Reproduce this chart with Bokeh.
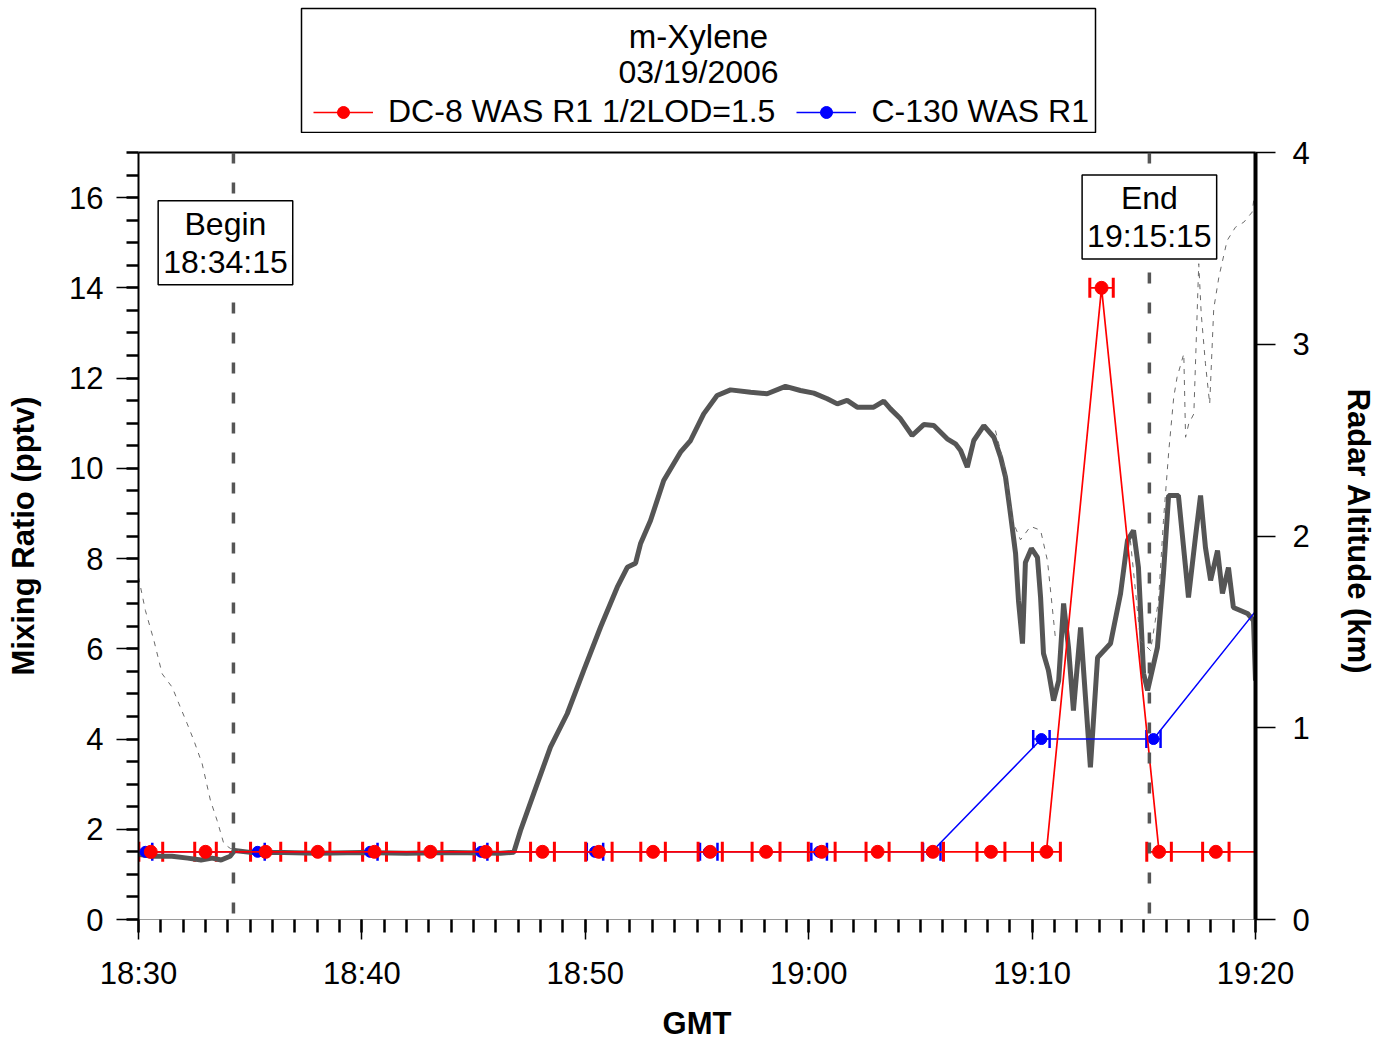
import numpy as np
import pandas as pd
from bokeh.plotting import figure
from bokeh.models import (ColumnDataSource, Range1d, LinearAxis, FixedTicker,
                          DatetimeTickFormatter, Whisker, TeeHead, Span, Label,
                          Legend, LegendItem)
from bokeh.layouts import column
from bokeh.embed import file_html
from bokeh.resources import INLINE
from bokeh.core.properties import value

FONT = "Liberation Sans"
DATE = "2006-03-19"

# ---------------- data ----------------
title_species = "m-Xylene"
title_date = "03/19/2006"
dc8_label = "DC-8 WAS R1 1/2LOD=1.5"
c130_label = "C-130 WAS R1"

# DC-8 whole-air samples (start, stop in GMT) and mixing ratio (pptv)
dc8_start = ["18:30:01", "18:32:31", "18:35:01", "18:37:29", "18:40:02", "18:42:33",
             "18:45:01", "18:47:33", "18:50:01", "18:52:29", "18:55:03", "18:57:28",
             "18:59:59", "19:02:34", "19:05:05", "19:07:32", "19:10:01", "19:12:35",
             "19:15:08", "19:17:38", "19:20:06"]
dc8_stop = ["18:31:05", "18:33:29", "18:36:22", "18:38:34", "18:41:06", "18:43:35",
            "18:46:04", "18:48:37", "18:51:12", "18:53:35", "18:56:08", "18:58:43",
            "19:01:11", "19:03:36", "19:06:02", "19:08:47", "19:11:16", "19:13:38",
            "19:16:14", "19:18:49", "19:21:18"]
dc8_mixing = [1.5, 1.5, 1.5, 1.5, 1.5, 1.5, 1.5, 1.5, 1.5, 1.5, 1.5, 1.5,
              1.5, 1.5, 1.5, 1.5, 1.5, 14.0, 1.5, 1.5, 1.5]

# C-130 whole-air samples
c130_start = ["18:30:00", "18:35:01", "18:40:02", "18:45:03", "18:50:04", "18:55:08",
              "19:00:07", "19:05:07", "19:10:03", "19:15:07", "19:20:05"]
c130_stop = ["18:30:37", "18:35:39", "18:40:42", "18:45:37", "18:50:48", "18:55:55",
             "19:00:49", "19:05:54", "19:10:47", "19:15:45", "19:20:47"]
c130_mixing = [1.5, 1.5, 1.5, 1.5, 1.5, 1.5, 1.5, 1.5, 4.0, 4.0, 7.1]

# Radar altitude (km), minutes after 18:30 GMT
alt1_min = [0.00, 0.60, 1.50, 2.20, 2.80, 3.30, 3.70, 4.10, 4.30, 5.00, 6.50, 8.00,
            10.0, 12.0, 14.0, 16.2, 16.80, 17.10, 17.69, 18.44, 19.19, 19.93, 20.68,
            21.43, 21.88, 22.25, 22.47, 22.92, 23.51, 24.26, 24.71, 25.30, 25.90,
            26.50, 27.40, 28.14, 28.96, 29.63, 30.23, 30.83, 31.28, 31.72, 32.17,
            32.91, 33.36, 33.66, 34.11, 34.63, 35.15, 35.60, 36.20, 36.57, 36.80,
            37.10, 37.39, 37.84, 38.29, 38.59, 38.81, 39.03, 39.26, 39.39, 39.57,
            39.70, 39.97, 40.24, 40.38, 40.51, 40.73, 40.96, 41.19, 41.41, 41.63,
            41.85, 42.17, 42.39, 42.61, 42.93, 43.51, 43.96, 44.27, 44.54, 44.76,
            44.99, 45.17, 45.61, 45.88, 46.11, 46.55, 46.87, 47.00, 47.31, 47.54,
            47.76, 47.99, 48.30, 48.52, 48.79, 49.01, 49.64, 49.91, 50.00]
alt1_km = [0.34, 0.33, 0.33, 0.32, 0.31, 0.32, 0.31, 0.33, 0.36, 0.35, 0.35, 0.345,
           0.35, 0.345, 0.35, 0.345, 0.351, 0.464, 0.656, 0.899, 1.073, 1.299, 1.524,
           1.733, 1.837, 1.858, 1.959, 2.081, 2.289, 2.437, 2.498, 2.637, 2.733,
           2.762, 2.750, 2.742, 2.780, 2.759, 2.745, 2.716, 2.689, 2.707, 2.672,
           2.672, 2.703, 2.663, 2.611, 2.524, 2.581, 2.576, 2.507, 2.481, 2.446,
           2.359, 2.498, 2.576, 2.515, 2.411, 2.307, 2.117, 1.909, 1.664, 1.439,
           1.862, 1.935, 1.888, 1.679, 1.387, 1.299, 1.142, 1.246, 1.648, 1.419,
           1.090, 1.523, 1.158, 0.793, 1.366, 1.439, 1.700, 1.977, 2.029, 1.836,
           1.283, 1.194, 1.419, 1.804, 2.211, 2.211, 1.836, 1.679, 1.992, 2.211,
           1.940, 1.768, 1.924, 1.700, 1.836, 1.627, 1.596, 1.559, 1.246]

# second altitude trace (thin dashed), gaps where it lies under the first one
alt2_min = [0.00, 0.31, 0.69, 1.06, 1.51, 1.81, 2.18, 2.48, 2.85, 3.22, 3.52, 3.82,
            4.12, 4.50, 4.60,
            38.36, 38.81, 39.12, 39.48, 39.93, 40.38, 40.69, 41.05, 41.10,
            44.40, 44.85, 45.30, 45.66, 45.88, 46.12, 46.34, 46.49, 46.79, 46.87,
            47.01, 47.24, 47.46, 47.57, 47.76, 47.95, 48.13, 48.36, 48.73, 49.10,
            49.48, 49.85, 49.92, 50.00]
alt2_km = [1.785, 1.611, 1.455, 1.281, 1.211, 1.125, 1.021, 0.933, 0.812, 0.621,
           0.516, 0.395, 0.370, 0.360, np.nan,
           2.55, 2.34, 2.08, 1.98, 2.05, 2.03, 1.87, 1.46, np.nan,
           1.977, 1.455, 1.403, 1.664, 2.081, 2.446, 2.724, 2.828, 2.950, 2.515,
           2.585, 2.637, 3.420, 3.159, 2.898, 2.689, 3.185, 3.350, 3.541, 3.610,
           3.637, 3.689, 3.750, 3.800]

event_names = ["Begin", "End"]
event_times = ["18:34:15", "19:15:15"]

x_start, x_end = "18:30:00", "19:20:00"
x_major = ["18:30", "18:40", "18:50", "19:00", "19:10", "19:20"]
y_left_ticks = [0, 2, 4, 6, 8, 10, 12, 14, 16]
y_right_ticks = [0, 1, 2, 3, 4]


# ---------------- helpers ----------------
def ts(hms):
    if hms.count(":") == 1:
        hms = hms + ":00"
    return pd.Timestamp(f"{DATE} {hms}")


EPOCH = pd.Timestamp("1970-01-01")


def ms(t):
    return (t - EPOCH) / pd.Timedelta(milliseconds=1)


base_ms = ms(ts(x_start))
end_ms = ms(ts(x_end))


def samples(starts, stops, vals):
    t0 = np.array([ms(ts(s)) for s in starts])
    t1 = np.array([ms(ts(s)) for s in stops])
    return dict(t0=t0, t1=t1, tm=(t0 + t1) / 2, y=np.array(vals, dtype=float))


dc8 = samples(dc8_start, dc8_stop, dc8_mixing)
c130 = samples(c130_start, c130_stop, c130_mixing)


def in_range(d):
    keep = d["t1"] <= end_ms
    return {k: v[keep] for k, v in d.items()}


# styles shared by plot and legend
DC8_LINE = dict(line_color="red", line_width=1.7)
DC8_DOT = dict(marker="circle", size=13, color="red")
C130_LINE = dict(line_color="blue", line_width=1.5)
C130_DOT = dict(marker="circle", size=11, color="blue")

# ---------------- main figure ----------------
p = figure(frame_width=1117, frame_height=767, x_axis_type="datetime",
           x_range=Range1d(base_ms, end_ms), y_range=Range1d(0, 17),
           min_border_left=138, min_border_right=126, min_border_top=19,
           min_border_bottom=123, output_backend="svg", toolbar_location=None,
           background_fill_color="white", border_fill_color="white", frame_align=False)
p.extra_y_ranges = {"alt": Range1d(0, 4)}
p.grid.visible = False
p.outline_line_color = None

# altitude traces
p.line(x=base_ms + np.array(alt1_min) * 60000.0, y=alt1_km, y_range_name="alt",
       line_color="#555555", line_width=5)
p.line(x=base_ms + np.array(alt2_min) * 60000.0, y=alt2_km, y_range_name="alt",
       line_color="#6a6a6a", line_width=1, line_dash="5 6")

# begin / end markers
for name, t in zip(event_names, event_times):
    p.add_layout(Span(location=ms(ts(t)), dimension="height", line_color="#555555",
                      line_width=3.5, line_dash="11 19"))

# C-130
c130_src = ColumnDataSource(c130)
p.line(x="tm", y="y", source=c130_src, **C130_LINE)
p.add_layout(Whisker(source=ColumnDataSource(in_range(c130)), base="y", lower="t0",
                     upper="t1", dimension="width", line_color="blue", line_width=1.5,
                     lower_head=TeeHead(size=18, line_color="blue", line_width=2.5),
                     upper_head=TeeHead(size=18, line_color="blue", line_width=2.5)))
p.scatter(x="tm", y="y", source=c130_src, **C130_DOT)

# DC-8
dc8_src = ColumnDataSource(dc8)
p.line(x="tm", y="y", source=dc8_src, **DC8_LINE)
p.add_layout(Whisker(source=ColumnDataSource(in_range(dc8)), base="y", lower="t0",
                     upper="t1", dimension="width", line_color="red", line_width=1.7,
                     lower_head=TeeHead(size=20, line_color="red", line_width=3),
                     upper_head=TeeHead(size=20, line_color="red", line_width=3)))
p.scatter(x="tm", y="y", source=dc8_src, **DC8_DOT)

# event labels
label_pos = {"Begin": (15.0, -8), "End": (15.57, 0)}
for name, t in zip(event_names, event_times):
    yv, xo = label_pos[name]
    p.add_layout(Label(x=ms(ts(t)), y=yv, x_offset=xo, text=f"{name}\n{t}",
                       text_align="center", text_baseline="middle", text_font=FONT,
                       text_font_size="32px", text_color="black", text_line_height=1.05,
                       background_fill_color="white", border_line_color="black",
                       border_line_width=1.5, padding=5))

# x axis
xa = p.xaxis[0]
xa.ticker = FixedTicker(ticks=[ms(ts(t)) for t in x_major],
                        minor_ticks=list(np.arange(base_ms, end_ms + 1, 60000.0)))
xa.formatter = DatetimeTickFormatter(seconds="%H:%M", minsec="%H:%M", minutes="%H:%M",
                                     hourmin="%H:%M", hours="%H:%M")
xa.axis_label = "GMT"
xa.major_tick_in = 0
xa.major_tick_out = 20
xa.major_tick_line_width = 1.5
xa.minor_tick_in = 0
xa.minor_tick_out = 13
xa.minor_tick_line_width = 2.5
xa.major_label_standoff = 16

# left axis
ya = p.yaxis[0]
ya.ticker = FixedTicker(ticks=y_left_ticks, minor_ticks=list(np.arange(0, 17.01, 0.5)))
ya.axis_label = "Mixing Ratio (pptv)"
ya.axis_line_width = 2
ya.major_tick_in = 0
ya.major_tick_out = 22
ya.major_tick_line_width = 1.5
ya.minor_tick_in = 0
ya.minor_tick_out = 12
ya.minor_tick_line_width = 2.5
ya.major_label_standoff = 13

# right axis
ra = LinearAxis(y_range_name="alt", axis_label="Radar Altitude  (km)",
                ticker=FixedTicker(ticks=y_right_ticks, minor_ticks=[]))
ra.axis_line_width = 4
ra.major_tick_in = 0
ra.major_tick_out = 20
ra.major_tick_line_width = 1.5
ra.major_label_standoff = 17
p.add_layout(ra, "right")

for ax in (xa, ya, ra):
    ax.major_label_text_font = FONT
    ax.major_label_text_font_size = "31px"
    ax.major_label_text_color = "black"
    ax.axis_label_text_font = FONT
    ax.axis_label_text_font_size = "31px"
    ax.axis_label_text_font_style = "bold"
    ax.axis_label_text_color = "black"
    ax.axis_line_color = "black"
    ax.major_tick_line_color = "black"
    ax.minor_tick_line_color = "black"
ra.minor_tick_line_color = None
xa.axis_line_color = "#9a9a9a"
xa.axis_line_width = 1
xa.axis_label_standoff = 12
ya.axis_label_standoff = 25
ra.axis_label_standoff = 28

# top border of the plot area
ta = LinearAxis(ticker=FixedTicker(ticks=[], minor_ticks=[]), major_label_text_font_size="0px",
                major_tick_line_color=None, minor_tick_line_color=None, axis_line_width=2,
                axis_line_color="black", major_label_standoff=0)
p.add_layout(ta, "above")

# ---------------- header: title + legend box ----------------
HB = 124
h = figure(frame_width=794, frame_height=HB, x_range=Range1d(0, 794), y_range=Range1d(0, HB),
           min_border_left=301, min_border_right=286, min_border_top=8, min_border_bottom=1,
           x_axis_location=None, y_axis_location=None, output_backend="svg",
           toolbar_location=None, background_fill_color="white", border_fill_color="white",
           frame_align=False)
h.grid.visible = False
h.outline_line_color = "black"
h.outline_line_width = 1.5

h.text(x=[397], y=[HB - 28], text=[title_species], text_align="center", text_baseline="middle",
       text_font=value(FONT), text_font_size="33px", text_color="black")
h.text(x=[397], y=[HB - 63], text=[title_date], text_align="center", text_baseline="middle",
       text_font=value(FONT), text_font_size="32px", text_color="black")

# legend glyph carriers (kept outside the visible header range)
l1 = h.line(x=[-500, -400], y=[-500, -500], **DC8_LINE)
s1 = h.scatter(x=[-500], y=[-500], **DC8_DOT)
l2 = h.line(x=[-500, -400], y=[-500, -500], **C130_LINE)
s2 = h.scatter(x=[-500], y=[-500], **C130_DOT)
leg = Legend(items=[LegendItem(label=dc8_label, renderers=[l1, s1]),
                    LegendItem(label=c130_label, renderers=[l2, s2])],
             orientation="horizontal", location=(12, 2), glyph_width=60, glyph_height=30,
             label_standoff=15, spacing=21, label_text_font=FONT, label_text_font_size="32px",
             label_text_color="black", border_line_color=None, background_fill_alpha=0,
             padding=0, margin=0)
h.add_layout(leg)

layout = column(h, p, spacing=0)
open("out.html", "w").write(file_html(layout, INLINE))
